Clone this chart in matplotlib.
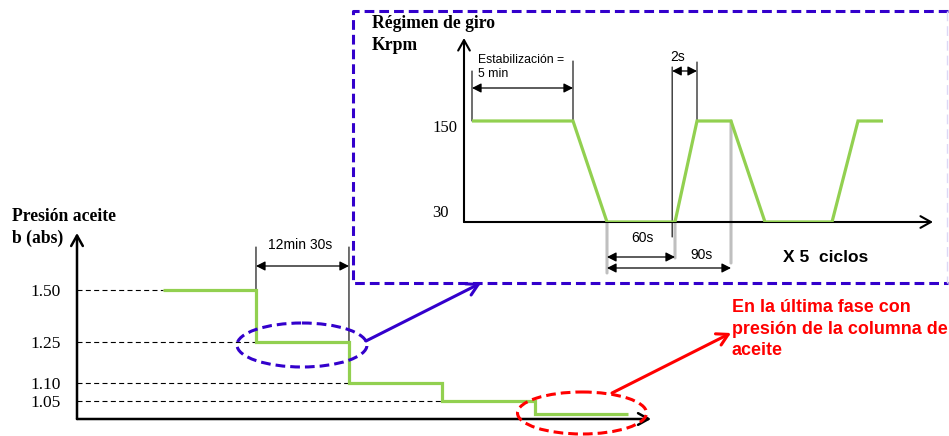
import numpy as np
import matplotlib
matplotlib.use("Agg")
import matplotlib.pyplot as plt
from matplotlib.patches import Ellipse

plt.rcParams['lines.scale_dashes'] = False

# ---------------- data ----------------
STAGE_START_MIN = [0, 12.5, 25, 37.5, 50]
STAGE_END_MIN = 62.5
PRESSURE_BAR = [1.50, 1.25, 1.10, 1.05, 1.00]
PRESSURE_TICKS = [1.50, 1.25, 1.10, 1.05]
PRESSURE_TICK_LABELS = ['1.50', '1.25', '1.10', '1.05']

CYCLE_T_S = [0, 300, 310, 370, 372, 400, 410, 470, 472, 485]
CYCLE_KRPM = [150, 150, 30, 30, 150, 150, 30, 30, 150, 150]
SPEED_TICKS = [30, 150]
SPEED_TICK_LABELS = ['30', '150']

# ---------------- style ----------------
GREEN = '#92D050'
BLUE = '#3300CC'
RED = '#FF0000'
GRAY = '#BFBFBF'
SERIF = 'Liberation Serif'
SANS = 'Liberation Sans'

W, H = 949, 436
fig = plt.figure(figsize=(W / 100, H / 100), dpi=100)


def rect_px(x0, y0, x1, y1):
    return [x0 / W, (H - y1) / H, (x1 - x0) / W, (y1 - y0) / H]


def seg(ax, x0, y0, x1, y1, style='-', color='black', lw=0.8, z=2, ms=10):
    ax.annotate('', xy=(x1, H - y1), xytext=(x0, H - y0),
                xycoords=('data', 'figure pixels'),
                arrowprops=dict(arrowstyle=style, color=color, lw=lw,
                                shrinkA=0, shrinkB=0, mutation_scale=ms),
                zorder=z)


DIM = '<|-|>,head_length=0.55,head_width=0.28'
AX_ARROW = '->,head_length=0.75,head_width=0.42'

# ---------------- main pressure chart ----------------
ax = fig.add_axes(rect_px(77, 233, 651, 419))
ax.patch.set_visible(False)
for s in ax.spines.values():
    s.set_visible(False)

P_LEVELS = [0.98, 1.00, 1.05, 1.10, 1.25, 1.50, 1.78]
P_PIX = [0, 5, 18, 36, 77, 129, 186]
ax.set_yscale('function', functions=(lambda v: np.interp(v, P_LEVELS, P_PIX),
                                     lambda p: np.interp(p, P_PIX, P_LEVELS)))
ax.set_ylim(P_LEVELS[0], P_LEVELS[-1])
x_lo, x_hi = -11.56, 65.6
ax.set_xlim(x_lo, x_hi)

xs = STAGE_START_MIN + [STAGE_END_MIN]
ys = PRESSURE_BAR + [PRESSURE_BAR[-1]]
ax.step(xs, ys, where='post', color=GREEN, lw=2.3, zorder=4,
        solid_joinstyle='miter', solid_capstyle='butt')

for p, t in zip(PRESSURE_TICKS, STAGE_START_MIN):
    ax.plot([x_lo, t], [p, p], color='black', lw=0.8,
            linestyle=(0, (3.6, 2.4)), zorder=2)

ax.set_xticks([])
ax.set_yticks(PRESSURE_TICKS, PRESSURE_TICK_LABELS)
ax.tick_params(axis='y', length=0, pad=12, labelsize=12.5)
for lab in ax.get_yticklabels():
    lab.set_fontfamily(SERIF)

ax.annotate('', xy=(0, 1), xytext=(0, 0), xycoords='axes fraction',
            arrowprops=dict(arrowstyle=AX_ARROW, lw=1.8, color='black',
                            shrinkA=0, shrinkB=0, mutation_scale=10))
ax.annotate('', xy=(1, 0), xytext=(0, 0), xycoords='axes fraction',
            arrowprops=dict(arrowstyle=AX_ARROW, lw=1.8, color='black',
                            shrinkA=0, shrinkB=0, mutation_scale=10))

# 12min 30s dimension
seg(ax, STAGE_START_MIN[1], 342, STAGE_START_MIN[1], 247)
seg(ax, STAGE_START_MIN[2], 345, STAGE_START_MIN[2], 247)
seg(ax, STAGE_START_MIN[1], 266, STAGE_START_MIN[2], 266, style=DIM, lw=0.9)
ax.annotate('12min 30s', xy=(18.4, H - 245), xycoords=('data', 'figure pixels'),
            ha='center', va='center', fontsize=10, family=SANS)

# ---------------- inset speed chart ----------------
ax2 = fig.add_axes(rect_px(464, 38, 933, 222))
ax2.patch.set_visible(False)
for s in ax2.spines.values():
    s.set_visible(False)

TK = [-24, 0, 300, 310, 370, 372, 400, 410, 470, 472, 485, 510]
PK = [0, 8, 109, 143, 211, 233, 267, 301, 368, 394, 419, 469]
ax2.set_xscale('function', functions=(lambda t: np.interp(t, TK, PK),
                                      lambda p: np.interp(p, PK, TK)))
ax2.set_xlim(TK[0], TK[-1])
ax2.set_ylim(30, 248.6)
ax2.set_xticks([])
ax2.set_yticks([])

ax2.plot(CYCLE_T_S, CYCLE_KRPM, color=GREEN, lw=2.3, zorder=4,
         solid_joinstyle='miter', solid_capstyle='butt')

ax2.annotate('', xy=(0, 1), xytext=(0, 0), xycoords='axes fraction',
             arrowprops=dict(arrowstyle=AX_ARROW, lw=1.5, color='black',
                             shrinkA=0, shrinkB=0, mutation_scale=10))
ax2.annotate('', xy=(1, 0), xytext=(0, 0), xycoords='axes fraction',
             arrowprops=dict(arrowstyle=AX_ARROW, lw=1.5, color='black',
                             shrinkA=0, shrinkB=0, mutation_scale=10))

for v, lab, dy in zip(SPEED_TICKS, SPEED_TICK_LABELS, [9, -7]):
    ax2.annotate(lab, xy=(0, v), xycoords=('axes fraction', 'data'),
                 xytext=(-32, dy), textcoords='offset pixels',
                 ha='left', va='center', fontsize=12, family=SERIF)

# Estabilizacion dimension
seg(ax2, CYCLE_T_S[0], 121, CYCLE_T_S[0], 71)
seg(ax2, CYCLE_T_S[1], 121, CYCLE_T_S[1], 61)
seg(ax2, CYCLE_T_S[0], 88, CYCLE_T_S[1], 88, style=DIM, lw=0.9)
ax2.annotate('Estabilización =', xy=(18, H - 60), xycoords=('data', 'figure pixels'),
             ha='left', va='center', fontsize=8.8, family=SANS)
ax2.annotate('5 min', xy=(18, H - 74), xycoords=('data', 'figure pixels'),
             ha='left', va='center', fontsize=8.8, family=SANS)

# 2s dimension
seg(ax2, 367.5, 237, 367.5, 67)
seg(ax2, CYCLE_T_S[4], 121, CYCLE_T_S[4], 62)
seg(ax2, 367.5, 71, CYCLE_T_S[4], 71, style=DIM, lw=0.9)
ax2.annotate('2s', xy=(370.2, H - 57), xycoords=('data', 'figure pixels'),
             ha='center', va='center', fontsize=10, family=SANS)

# gray extension lines & 60s / 90s dimensions
seg(ax2, CYCLE_T_S[2], 222, CYCLE_T_S[2], 273, color=GRAY, lw=2.2, z=1)
seg(ax2, CYCLE_T_S[3], 222, CYCLE_T_S[3], 258, color=GRAY, lw=2.2, z=1)
seg(ax2, CYCLE_T_S[5], 121, CYCLE_T_S[5], 263, color=GRAY, lw=2.2, z=1)
seg(ax2, CYCLE_T_S[2], 257, CYCLE_T_S[3], 257, style=DIM, lw=0.9)
seg(ax2, CYCLE_T_S[2], 268, CYCLE_T_S[5], 268, style=DIM, lw=0.9)
ax2.annotate('60s', xy=(341, H - 238), xycoords=('data', 'figure pixels'),
             ha='center', va='center', fontsize=10, family=SANS)
ax2.annotate('90s', xy=(376, H - 255), xycoords=('data', 'figure pixels'),
             ha='center', va='center', fontsize=10, family=SANS)

# ---------------- overlay: frames, callouts, titles ----------------
ov = fig.add_axes([0, 0, 1, 1])
ov.set_xlim(0, W)
ov.set_ylim(H, 0)
ov.axis('off')

BOX_DASH = (0, (7, 3.6))
ov.plot([948, 353, 353, 948], [11, 11, 283, 283], color=BLUE, lw=2.2,
        linestyle=BOX_DASH, solid_joinstyle='miter')
ov.plot([947, 947], [11, 283], color='#DCD8F6', lw=1.0, linestyle=BOX_DASH)
ov.add_patch(Ellipse((302, 345), 130, 44, fill=False, edgecolor=BLUE,
                     lw=2.2, linestyle=BOX_DASH, zorder=5))
ov.add_patch(Ellipse((582, 413), 129, 42, fill=False, edgecolor=RED,
                     lw=2.2, linestyle=BOX_DASH, zorder=5))
ov.annotate('', xy=(481, 283), xytext=(366, 341),
            arrowprops=dict(arrowstyle='->,head_length=0.8,head_width=0.45',
                            color=BLUE, lw=2.2, shrinkA=0, shrinkB=0,
                            mutation_scale=10))
ov.annotate('', xy=(731, 333), xytext=(612, 393),
            arrowprops=dict(arrowstyle='->,head_length=0.8,head_width=0.45',
                            color=RED, lw=2.2, shrinkA=0, shrinkB=0,
                            mutation_scale=10))

ov.text(12, 216, 'Presión aceite', ha='left', va='center', fontsize=12.7,
        fontweight='bold', family=SERIF)
ov.text(12, 238, 'b (abs)', ha='left', va='center', fontsize=12.7,
        fontweight='bold', family=SERIF)
ov.text(372, 23, 'Régimen de giro', ha='left', va='center', fontsize=12.7,
        fontweight='bold', family=SERIF)
ov.text(372, 45, 'Krpm', ha='left', va='center', fontsize=12.7,
        fontweight='bold', family=SERIF)
ov.text(783, 257, 'X 5  ciclos', ha='left', va='center', fontsize=12.5,
        fontweight='bold', family=SANS)
for yy, line in zip([307, 329, 350],
                    ['En la última fase con', 'presión de la columna de', 'aceite']):
    ov.text(732, yy, line, ha='left', va='center', fontsize=12.9,
            fontweight='bold', family=SANS, color=RED)

fig.savefig('out.png', dpi=100)
